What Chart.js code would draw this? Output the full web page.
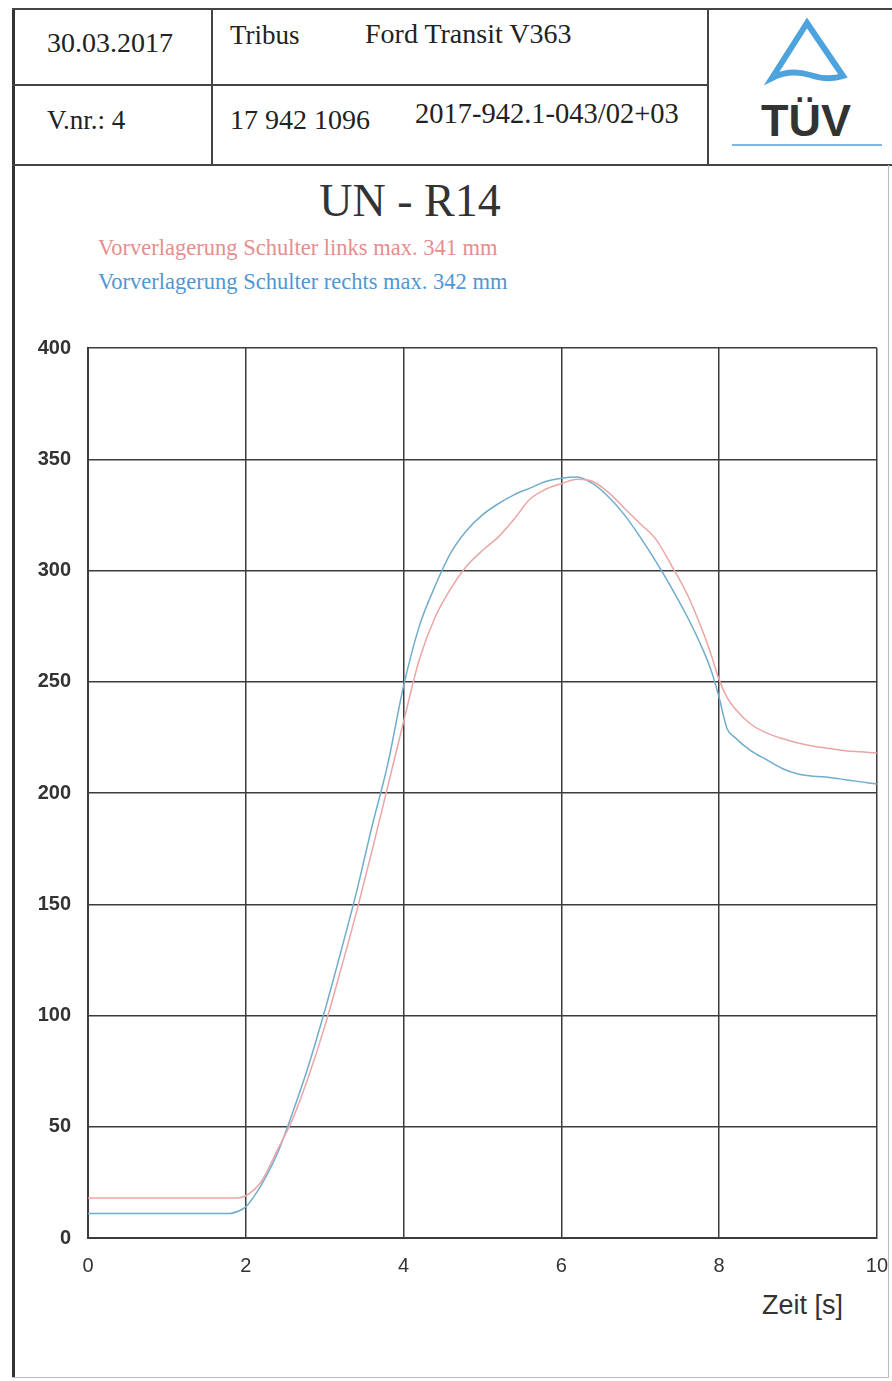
<!DOCTYPE html>
<html>
<head>
<meta charset="utf-8">
<script src="https://cdn.jsdelivr.net/npm/chart.js@4.4.0/dist/chart.umd.min.js"></script>
<style>
body{margin:0;background:#fff;overflow:hidden;}
#page{position:relative;width:892px;height:1381px;overflow:hidden;background:#fff;}
.ln{position:absolute;background:#444;}
.t{position:absolute;font-family:"Liberation Serif","Times New Roman",serif;color:#222;white-space:nowrap;}
#chartBox{position:absolute;left:14px;top:319px;width:890px;height:959px;}
</style>
</head>
<body>
<div id="page">
  <!-- outer frame + header table -->
  <div class="ln" style="left:12px;top:8px;width:3px;height:1370px;background:#333"></div>
  <div class="ln" style="left:12px;top:8px;width:880px;height:2px"></div>
  <div class="ln" style="left:12px;top:164px;width:880px;height:2px"></div>
  <div class="ln" style="left:12px;top:84px;width:696px;height:2px"></div>
  <div class="ln" style="left:211px;top:8px;width:2px;height:157px"></div>
  <div class="ln" style="left:707px;top:8px;width:2px;height:157px"></div>

  <div class="t" style="left:47px;top:27px;font-size:28px">30.03.2017</div>
  <div class="t" style="left:230px;top:20px;font-size:27px">Tribus</div>
  <div class="t" style="left:365px;top:18px;font-size:28px">Ford Transit V363</div>
  <div class="t" style="left:47px;top:105px;font-size:27px">V.nr.: 4</div>
  <div class="t" style="left:230px;top:104px;font-size:28px">17 942 1096</div>
  <div class="t" style="left:415px;top:98px;font-size:28.5px">2017-942.1-043/02+03</div>

  <!-- TÜV logo -->
  <svg style="position:absolute;left:720px;top:10px" width="172" height="150">
    <path d="M87 13 L52 68 Q70 59 90 65 Q108 71 123 66 Z" fill="none" stroke="#4da3dd" stroke-width="6" stroke-linejoin="miter"/>
    <text x="86" y="126" text-anchor="middle" font-family="Liberation Sans, Arial, sans-serif" font-weight="bold" font-size="45" fill="#333">TÜV</text>
    <rect x="12" y="134" width="150" height="2" fill="#7cb8e0"/>
  </svg>

  <div class="t" style="left:0;width:820px;text-align:center;top:174px;font-size:46px;color:#333">UN - R14</div>
  <div class="t" id="legL" style="left:98px;top:235px;font-size:22.5px;color:#e58e8e"></div>
  <div class="t" id="legR" style="left:98px;top:269px;font-size:22.5px;color:#4f97d3"></div>

  <div id="chartBox"><canvas id="myChart" width="890" height="959"></canvas></div>
  <div style="position:absolute;left:762px;top:1290px;font-family:'Liberation Sans',Arial,sans-serif;font-size:27px;color:#333">Zeit [s]</div>

  <div class="ln" style="left:888px;top:165px;width:1px;height:1213px;background:#bbb"></div>
  <div class="ln" style="left:12px;top:1377px;width:877px;height:1px;background:#bbb"></div>
</div>
<script>
// data (time in s, forward displacement in mm)
var zeit   = [0, 0.5, 1, 1.5, 1.8, 1.9, 2.0, 2.1, 2.2, 2.4, 2.6, 2.8, 3.0, 3.2, 3.4, 3.6, 3.8, 4.0, 4.2, 4.4, 4.6, 4.8, 5.0, 5.2, 5.4, 5.6, 5.8, 6.0, 6.2, 6.4, 6.6, 6.8, 7.0, 7.2, 7.4, 7.6, 7.8, 7.9, 8.0, 8.1, 8.2, 8.4, 8.6, 8.8, 9.0, 9.2, 9.4, 9.6, 9.8, 10];
var links  = [18, 18, 18, 18, 18, 18, 19, 21.5, 25.5, 39.5, 54, 73, 95, 120, 146, 174, 203, 232, 260, 279, 292, 302, 309, 315, 323, 332, 336.5, 339, 341, 340, 335, 328, 321, 314, 302, 289, 272, 262, 251, 243, 238, 231, 227, 224.5, 222.5, 221, 220, 219, 218.5, 218];
var rechts = [11, 11, 11, 11, 11, 12, 14, 18.5, 24, 38, 57, 78, 102, 128, 155, 185, 213, 248, 275, 293, 308, 318, 325, 330, 334, 337, 340, 341.5, 342, 339, 333, 325, 315, 304, 292, 279, 264, 255, 243, 229, 225, 219, 215, 211, 208.5, 207.5, 207, 206, 205, 204];
var labelLinks  = "Vorverlagerung Schulter links max. 341 mm";
var labelRechts = "Vorverlagerung Schulter rechts max. 342 mm";
var xMax = 10, xStep = 2;
var yMax = 400, yStep = 50;

document.getElementById("legL").textContent = labelLinks;
document.getElementById("legR").textContent = labelRechts;

function pts(vals){
    return zeit.map(function(t,i){ return {x:t, y:vals[i]}; });
}

var ctx = document.getElementById('myChart');
var gridCol = '#3c3c3c';
var chart = new Chart(ctx, {
    type: 'line',
    data: {
        datasets: [{
            label: labelLinks,
            data: pts(links),
            borderColor: 'rgb(236,165,165)',
            borderWidth: 1.5,
            pointRadius: 0,
            cubicInterpolationMode: 'monotone'
        },{
            label: labelRechts,
            data: pts(rechts),
            borderColor: 'rgb(112,172,205)',
            borderWidth: 1.5,
            pointRadius: 0,
            cubicInterpolationMode: 'monotone'
        }]
    },
    options: {
        responsive: false,
        animation: false,
        devicePixelRatio: 1,
        layout: { padding: { top: 6, right: 0, bottom: 0, left: 0 } },
        plugins: { legend: { display: false }, tooltip: { enabled: false } },
        scales: {
            x: {
                type: 'linear', min: 0, max: xMax,
                afterFit: function(s){ s.height = 40; },
                grid: { color: gridCol, lineWidth: 1.5, drawTicks: false },
                border: { color: gridCol, width: 2 },
                ticks: { stepSize: xStep, padding: 16, color: '#333',
                         font: { family: 'Liberation Sans, Arial, sans-serif', size: 20 } }
            },
            y: {
                min: 0, max: yMax,
                afterFit: function(s){ s.width = 74; },
                grid: { color: gridCol, lineWidth: 1.5, drawTicks: false },
                border: { color: gridCol, width: 2 },
                ticks: { stepSize: yStep, padding: 17, color: '#333',
                         font: { family: 'Liberation Sans, Arial, sans-serif', size: 20, weight: 'bold' } }
            }
        }
    }
});
</script>
</body>
</html>
